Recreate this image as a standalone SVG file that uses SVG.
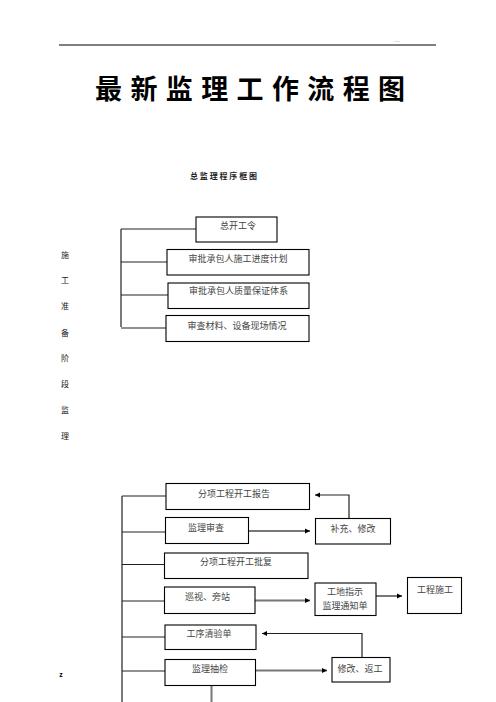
<svg xmlns="http://www.w3.org/2000/svg" width="496" height="702" viewBox="0 0 496 702">
<style>
.bx{fill:#fff;stroke:#000;stroke-width:1.1}
.t{font-family:"Noto Sans CJK SC","Noto Sans CJK JP",sans-serif;font-size:9px;fill:#444;text-anchor:middle}
.side{font-family:"Noto Sans CJK SC",sans-serif;font-size:8px;fill:#222;text-anchor:middle}
.ln{fill:none;stroke:#222;stroke-width:1.2}
.gl{fill:none;stroke:#777;stroke-width:2}
</style>
<defs>
<marker id="ah" markerWidth="6" markerHeight="6" refX="5" refY="3" orient="auto" markerUnits="userSpaceOnUse">
<path d="M0,0.5 L5,3 L0,5.5 Z" fill="#000"/>
</marker>
</defs>
<rect width="496" height="702" fill="#fff"/>
<line x1="59" y1="45" x2="436" y2="45" stroke="#000" stroke-width="1.2"/>
<text x="397" y="42" font-family="Liberation Sans,sans-serif" font-size="7" fill="#888" text-anchor="middle">...</text>
<text x="95" y="99" font-family="Noto Sans CJK SC,sans-serif" font-size="27" font-weight="bold" fill="#000" textLength="310" lengthAdjust="spacing">最新监理工作流程图</text>
<text x="190" y="178.7" font-family="Noto Sans CJK SC,sans-serif" font-size="8" font-weight="bold" fill="#222" textLength="67" lengthAdjust="spacing">总监理程序框图</text>
<g id="side-label">
<text class="side" x="65" y="258">施</text>
<text class="side" x="65" y="283">工</text>
<text class="side" x="65" y="309">准</text>
<text class="side" x="65" y="336">备</text>
<text class="side" x="65" y="361">阶</text>
<text class="side" x="65" y="387">段</text>
<text class="side" x="65" y="413">监</text>
<text class="side" x="65" y="439">理</text>
</g>
<text x="61" y="677" font-family="Liberation Sans,sans-serif" font-size="7" font-weight="bold" fill="#000" text-anchor="middle">z</text>
<g id="connectors">
<path class="ln" d="M121,229 V327 M121,229 H196 M121,262 H167 M121,295 H168 M121,328 H166"/>
<path class="ln" d="M122,496 V702 M122,496 H166 M122,532 H165 M122,564.5 H164 M122,601 H164 M122,637 H165 M122,671 H165"/>
<path class="gl" d="M248,531 H310" marker-end="url(#ah)"/>
<path class="ln" stroke-width="1" d="M349,518 V495 H315" marker-end="url(#ah)"/>
<path class="gl" d="M255,600.5 H310" marker-end="url(#ah)"/>
<path class="gl" d="M376,596 H402" marker-end="url(#ah)"/>
<path class="ln" stroke-width="1" d="M362,657 V633.5 H262" marker-end="url(#ah)"/>
<path class="gl" d="M256,670.5 H327" marker-end="url(#ah)"/>
<path class="gl" d="M211.5,685 V702"/>
</g>
<g id="n1"><rect class="bx" x="196" y="217" width="81" height="25"/><text class="t" x="238" y="228.5">总开工令</text></g>
<g id="n2"><rect class="bx" x="167" y="249.5" width="142" height="25.5"/><text class="t" x="238" y="261.5">审批承包人施工进度计划</text></g>
<g id="n3"><rect class="bx" x="168" y="283" width="141" height="25.5"/><text class="t" x="238.5" y="294">审批承包人质量保证体系</text></g>
<g id="n4"><rect class="bx" x="166" y="315.5" width="143" height="26"/><text class="t" x="237" y="328.5">审查材料、设备现场情况</text></g>
<g id="n5"><rect class="bx" x="166" y="483.5" width="143.5" height="26"/><text class="t" x="234" y="497">分项工程开工报告</text></g>
<g id="n6"><rect class="bx" x="165.5" y="517.5" width="83" height="26"/><text class="t" x="206" y="530.5">监理审查</text></g>
<g id="n7"><rect class="bx" x="315.5" y="518.5" width="75" height="25.5"/><text class="t" x="353" y="531.5">补充、修改</text></g>
<g id="n8"><rect class="bx" x="164.5" y="553" width="143.5" height="25.5"/><text class="t" x="236" y="565">分项工程开工批复</text></g>
<g id="n9"><rect class="bx" x="164.5" y="587" width="90.5" height="26.5"/><text class="t" x="207.5" y="600">巡视、旁站</text></g>
<g id="n10"><rect class="bx" x="315" y="583" width="61" height="32.5"/><text class="t" x="345" y="595">工地指示</text><text class="t" x="345" y="608.5">监理通知单</text></g>
<g id="n11"><rect class="bx" x="407.5" y="577.5" width="54" height="36"/><text class="t" x="435" y="593">工程施工</text></g>
<g id="n12"><rect class="bx" x="165" y="625" width="91" height="24.5"/><text class="t" x="209" y="636.5">工序清验单</text></g>
<g id="n13"><rect class="bx" x="165" y="659.5" width="90.5" height="26"/><text class="t" x="210" y="671.5">监理抽检</text></g>
<g id="n14"><rect class="bx" x="332" y="657.5" width="58" height="24.5"/><text class="t" x="360" y="671.5">修改、返工</text></g>
</svg>
